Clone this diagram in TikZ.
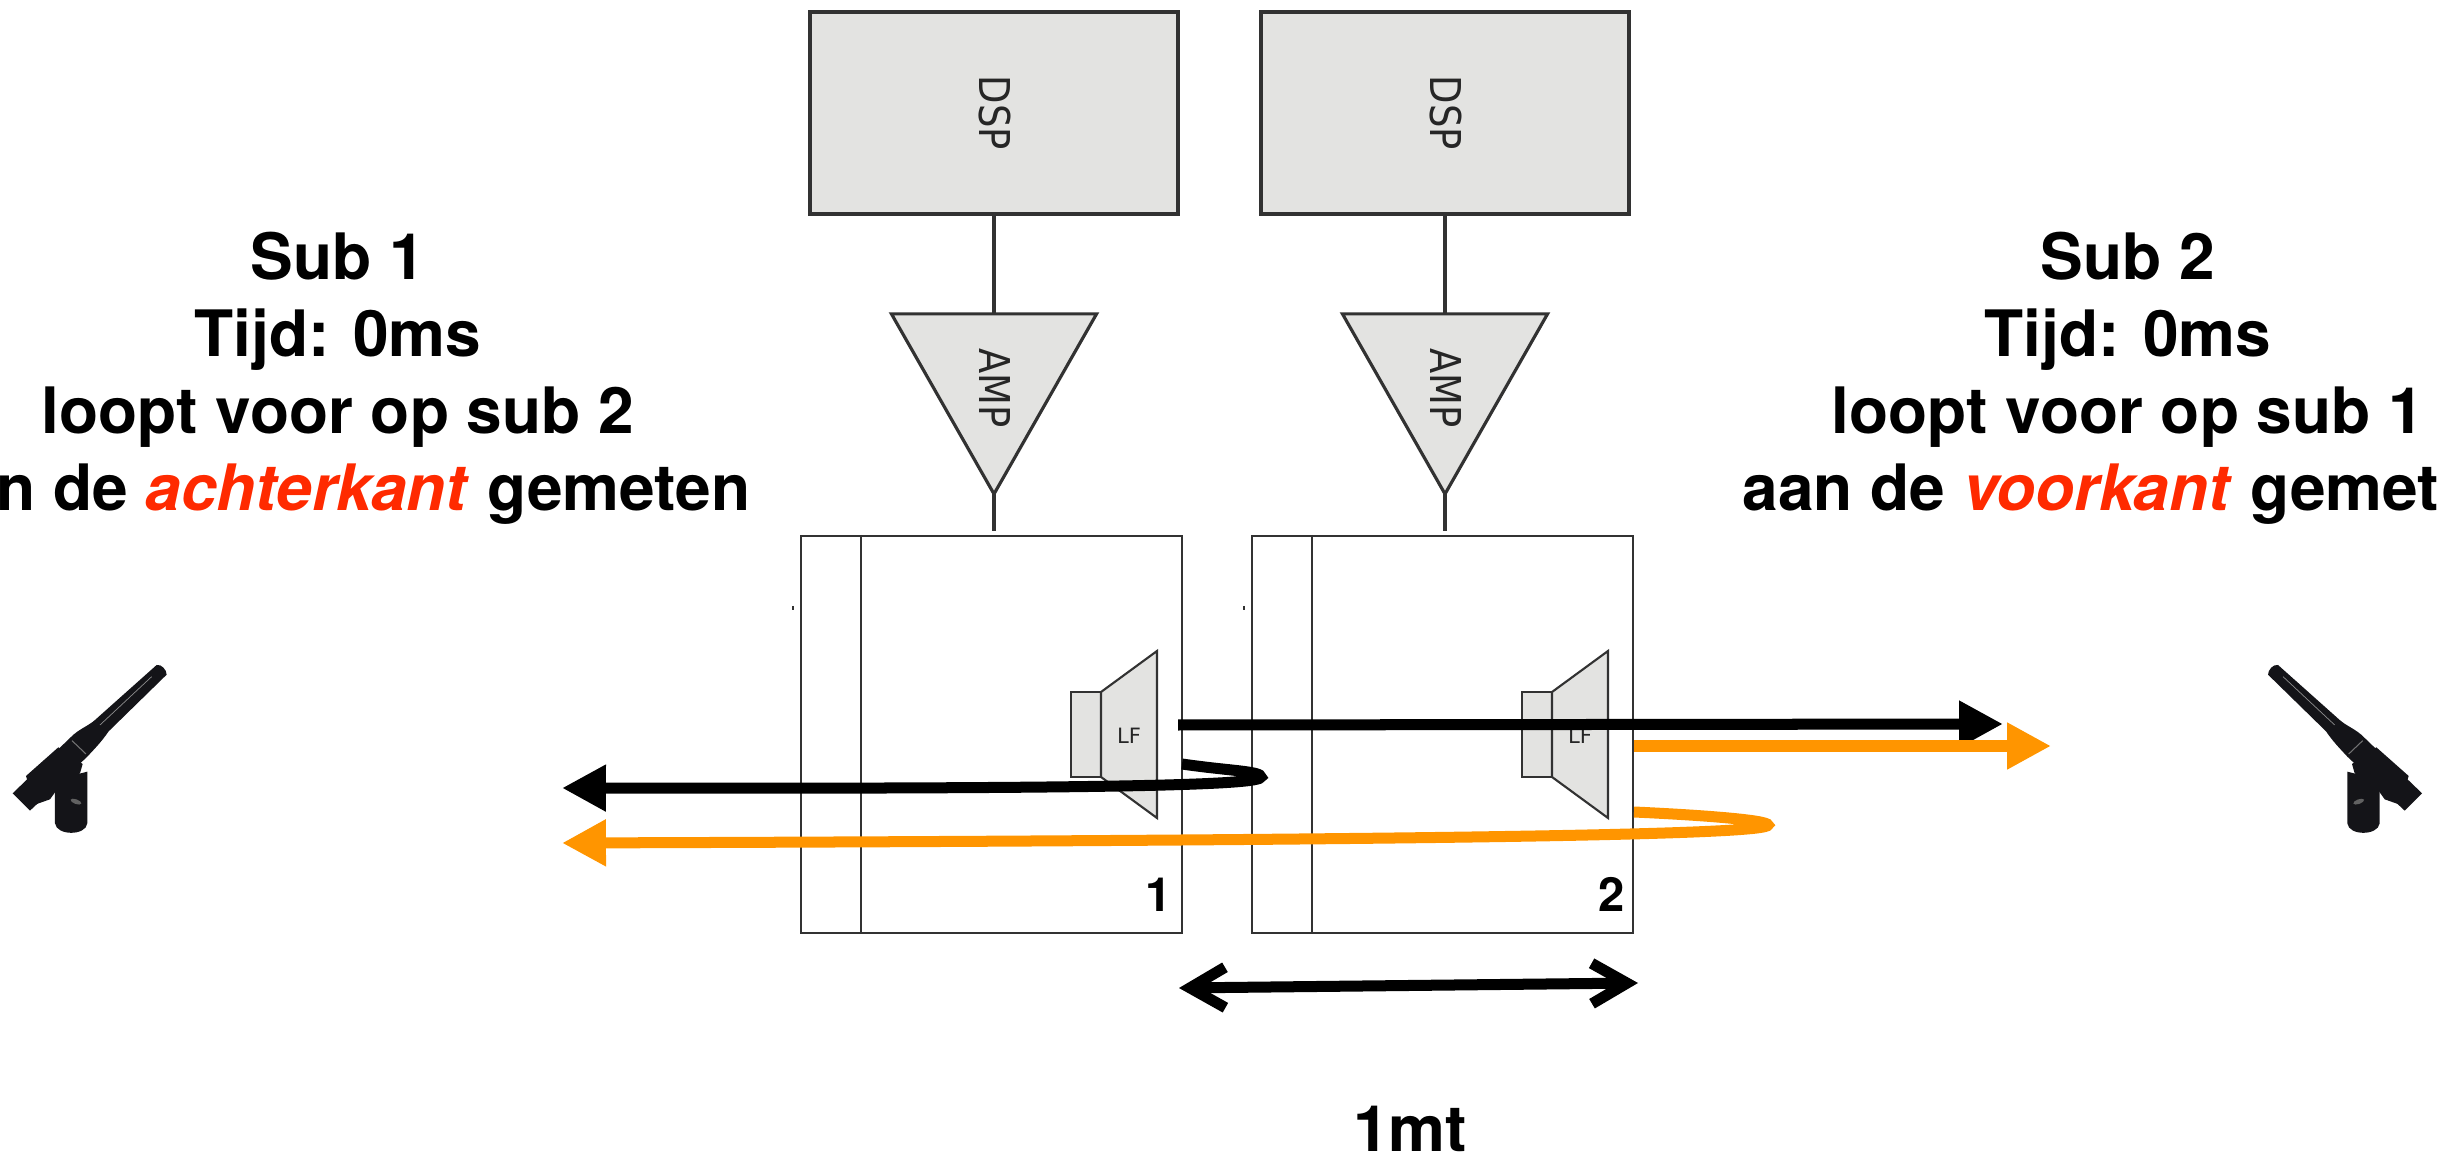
\documentclass[tikz,border=0pt]{standalone}
\usepackage{fontspec}
\setmainfont{TeX Gyre Heros}
\newfontfamily\gearfont{DejaVu Sans}
\usetikzlibrary{shapes.geometric,arrows.meta}
\definecolor{runorange}{RGB}{255,149,0}
\definecolor{wordred}{RGB}{255,42,0}
\definecolor{gearfill}{RGB}{227,227,225}
\definecolor{gearline}{RGB}{50,50,50}
\definecolor{micbody}{RGB}{20,20,24}

\begin{document}
\begin{tikzpicture}[
x=0.01cm,
y=-0.01cm,
dspbox/.style={
  draw=gearline,
  fill=gearfill,
  line width=1.1pt,
  minimum width=3.68cm,
  minimum height=2.02cm,
  inner sep=0pt
  },
ampbox/.style={
  draw=gearline,
  fill=gearfill,
  line width=0.9pt,
  isosceles triangle,
  isosceles triangle stretches,
  shape border rotate=-90,
  minimum width=2.05cm,
  minimum height=1.8cm,
  inner sep=0pt,
  outer sep=0pt
  },
subbox/.style={
  draw=gearline,
  line width=0.55pt,
  minimum width=3.81cm,
  minimum height=3.97cm,
  inner sep=0pt
  },
wire/.style={
  draw=gearline,
  line width=1pt
  },
gearpart/.style={
  draw=gearline,
  fill=gearfill,
  line width=0.6pt
  },
gearword/.style={
  font=\gearfont\fontsize{10.5}{12}\selectfont,
  text=black!85,
  rotate=-90,
  yscale=1.15,
  inner sep=0pt
  },
headline/.style={
  font=\fontsize{18.2}{21.9}\selectfont\bfseries,
  align=center,
  inner sep=0pt
  },
run/.style={
  line width=0.11cm,
  -{Triangle[length=12.5pt,width=12.5pt]}
  },
span/.style={
  line width=0.11cm,
  {Straight Barb[length=10pt,width=11.5pt]}-{Straight Barb[length=10pt,width=11.5pt]}
  }
]
\useasboundingbox (0,0) rectangle (2438,1158);
\clip (0,0) rectangle (2438,1158);

\foreach \n/\ox in {1/0,2/451}
{
\begin{scope}[shift={(\ox,0)}]
\node[dspbox] (dsp\n) at (994,113) {};
\node[gearword] (dspword\n) at (995,113) {DSP};
\node[ampbox,anchor=apex] (amp\n) at (994,494) {};
\node[gearword] (ampword\n) at (995,388) {AMP};
\node[subbox] (sub\n) at (991.5,734.5) {};
\draw[wire] (dsp\n) -- (amp\n.lower side);
\draw[wire,shorten >=1.2pt] (amp\n.apex) -- (amp\n.apex |- sub\n.north);
\draw[gearline,line width=0.55pt] ([xshift=0.61cm]sub\n.north west) -- ([xshift=0.61cm]sub\n.south west);
\draw[gearline,line width=0.3pt] (793,606) -- (793,610);
\node[gearpart,minimum width=0.3cm,minimum height=0.85cm,inner sep=0pt] (magnet\n) at (1086,734.5) {};
\draw[gearpart] (1101,692) -- (1157,651) -- (1157,818) -- (1101,777) -- cycle;
\node[font=\gearfont\fontsize{6}{7}\selectfont,text=black!85,inner sep=0pt] (lf\n) at (1129,736) {LF};
\end{scope}
}
\node[font=\fontsize{13.4}{15}\selectfont\bfseries,inner sep=0pt,anchor=base] (num1) at (1159,912) {1};
\node[font=\fontsize{13.4}{15}\selectfont\bfseries,inner sep=0pt,anchor=base] (num2) at (1612,912) {2};

\coordinate (directstart) at (1178,725);
\coordinate (directend) at (2003,724);
\coordinate (frontstart) at (1634,746);
\coordinate (frontend) at (2051,746);
\coordinate (backstart) at (1182,764);
\coordinate (backend) at (562,788);
\coordinate (rearstart) at (1634,812);
\coordinate (rearend) at (562,843);
\coordinate (spanleft) at (1179,988);
\coordinate (spanright) at (1638,983);

\draw[run] (directstart) -- (directend);
\draw[run] (backstart) .. controls (1230,771) and (1261,771) .. (1261,777) .. controls (1261,785) and (1120,789) .. (backend);
\draw[run,draw=runorange] (frontstart) -- (frontend);
\draw[run,draw=runorange] (rearstart) .. controls (1700,815) and (1768,820) .. (1768,825) .. controls (1768,834) and (1500,840) .. (rearend);
\draw[span] (spanleft) -- (spanright);

\node[headline,anchor=north] (sub1text) at (338,231) {Sub 1\\Tijd: 0ms\\loopt voor op sub 2\\aan de \textcolor{wordred}{\textit{achterkant}} gemeten};
\node[headline,anchor=north] (sub2text) at (2128,231) {Sub 2\\Tijd: 0ms\\loopt voor op sub 1\\aan de \textcolor{wordred}{\textit{voorkant}} gemeten};
\node[font=\fontsize{18.2}{21.9}\selectfont\bfseries,inner sep=0pt,anchor=base] (spantext) at (1410,1151) {1mt};

\foreach \s/\ox in {1/0,-1/2434.67}
{
\begin{scope}[shift={(\ox,640)},xscale=\s,scale=0.3333]
\fill[micbody] (165,420) -- (165,550) .. controls (170,588) and (258,588) .. (262,550) -- (262,395) -- cycle;
\fill[black!62,rotate around={-20:(228,485)}] (228,485) ellipse (17 and 7);
\fill[micbody] (175,322) -- (248,372) -- (240,400) -- (170,450) -- (150,478) -- (105,494) -- (78,408) -- cycle;
\fill[micbody] (470,75) .. controls (485,72) and (500,90) .. (500,104) -- (326,274) .. controls (305,305) and (285,325) .. (262,350) -- (90,512) -- (38,460) -- (212,292) .. controls (235,268) and (265,258) .. (285,240) -- cycle;
\draw[black!55,line width=0.3pt] (216,302) -- (258,342);
\draw[black!45,line width=0.2pt] (455,110) -- (300,255);
\end{scope}
}
\end{tikzpicture}
\end{document}
